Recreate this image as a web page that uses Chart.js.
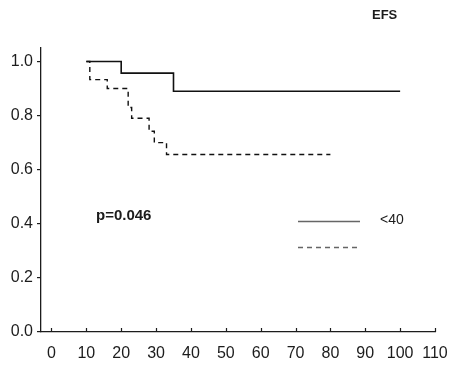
<!DOCTYPE html>
<html>
<head>
<meta charset="utf-8">
<script src="https://cdn.jsdelivr.net/npm/chart.js@4.4.1/dist/chart.umd.min.js"></script>
<style>
  body { margin: 0; background: #fff; }
  #wrap { width: 461px; height: 372px; }
</style>
</head>
<body>
<div id="wrap"><canvas id="efsChart" width="461" height="372"></canvas></div>
<script>
// survival curves (time, proportion event free)
const timesLow = [10, 20, 35, 100];
const survLow = [1.0, 0.957, 0.89, 0.89];
const timesHigh = [10, 11, 16, 22, 23, 28, 29.5, 33, 80];
const survHigh = [1.0, 0.933, 0.90, 0.83, 0.79, 0.742, 0.70, 0.656, 0.656];

const groupLabels = ['<40', ''];
const xTicks = [0, 10, 20, 30, 40, 50, 60, 70, 80, 90, 100, 110];
const yTicks = [0, 0.2, 0.4, 0.6, 0.8, 1.0];
const panelTitle = 'EFS';
const pValueText = 'p=0.046';

const FONT = "'Liberation Sans', Arial, sans-serif";
const INK = '#1c1c1c';

function toPoints(xs, ys) {
    return xs.map((x, i) => ({ x: x, y: ys[i] }));
}

// extra drawing: inward x ticks, title, p value and the key
const extras = {
    id: 'extras',
    afterDraw(chart) {
        const ctx = chart.ctx;
        const xs = chart.scales.x;
        const area = chart.chartArea;

        ctx.save();
        ctx.strokeStyle = INK;
        ctx.lineWidth = 1.2;
        xTicks.forEach(v => {
            const px = Math.round(xs.getPixelForValue(v)) + 0.5;
            ctx.beginPath();
            ctx.moveTo(px, area.bottom);
            ctx.lineTo(px, area.bottom - 4);
            ctx.stroke();
        });

        ctx.fillStyle = INK;
        ctx.textBaseline = 'middle';
        ctx.textAlign = 'left';
        ctx.font = 'bold 13px ' + FONT;
        ctx.fillText(panelTitle, 372, 15);

        ctx.font = 'bold 15px ' + FONT;
        ctx.fillText(pValueText, 96, 216);

        // key
        const keyRows = [221, 247];
        chart.data.datasets.forEach((ds, i) => {
            ctx.strokeStyle = '#666';
            ctx.lineWidth = 1.3;
            ctx.setLineDash(ds.borderDash || []);
            ctx.beginPath();
            ctx.moveTo(298, keyRows[i] + 0.5);
            ctx.lineTo(360, keyRows[i] + 0.5);
            ctx.stroke();
            ctx.setLineDash([]);
            ctx.font = '14px ' + FONT;
            ctx.fillStyle = INK;
            ctx.fillText(groupLabels[i], 380, keyRows[i] - 1);
        });
        ctx.restore();
    }
};

new Chart(document.getElementById('efsChart'), {
    type: 'line',
    data: {
        datasets: [{
            label: groupLabels[0],
            data: toPoints(timesLow, survLow),
            borderColor: '#111',
            borderWidth: 1.6,
            stepped: true,
            pointRadius: 0,
            fill: false
        }, {
            label: groupLabels[1],
            data: toPoints(timesHigh, survHigh),
            borderColor: '#111',
            borderWidth: 1.4,
            borderDash: [5, 4],
            stepped: true,
            pointRadius: 0,
            fill: false
        }]
    },
    options: {
        responsive: false,
        animation: false,
        devicePixelRatio: 1,
        layout: { padding: { top: 48, right: 26, left: 0, bottom: 0 } },
        plugins: {
            legend: { display: false },
            tooltip: { enabled: false }
        },
        scales: {
            x: {
                type: 'linear',
                min: -3,
                max: 110,
                afterBuildTicks: s => { s.ticks = xTicks.map(v => ({ value: v })); },
                afterFit: s => { s.height = 40; },
                grid: { display: false, drawTicks: false },
                border: { display: true, color: INK, width: 1.3 },
                ticks: {
                    padding: 12,
                    color: INK,
                    font: { family: FONT, size: 16 },
                    maxRotation: 0,
                    callback: v => String(v)
                }
            },
            y: {
                type: 'linear',
                min: 0,
                max: 1.05,
                afterBuildTicks: s => { s.ticks = yTicks.map(v => ({ value: v })); },
                afterFit: s => { s.width = 41; },
                grid: {
                    drawOnChartArea: false,
                    drawTicks: true,
                    tickLength: 4,
                    color: INK,
                    lineWidth: 1.2
                },
                border: { display: true, color: INK, width: 1.3 },
                ticks: {
                    padding: 4,
                    color: INK,
                    font: { family: FONT, size: 16 },
                    callback: v => Number(v).toFixed(1)
                }
            }
        }
    },
    plugins: [extras]
});
</script>
</body>
</html>
